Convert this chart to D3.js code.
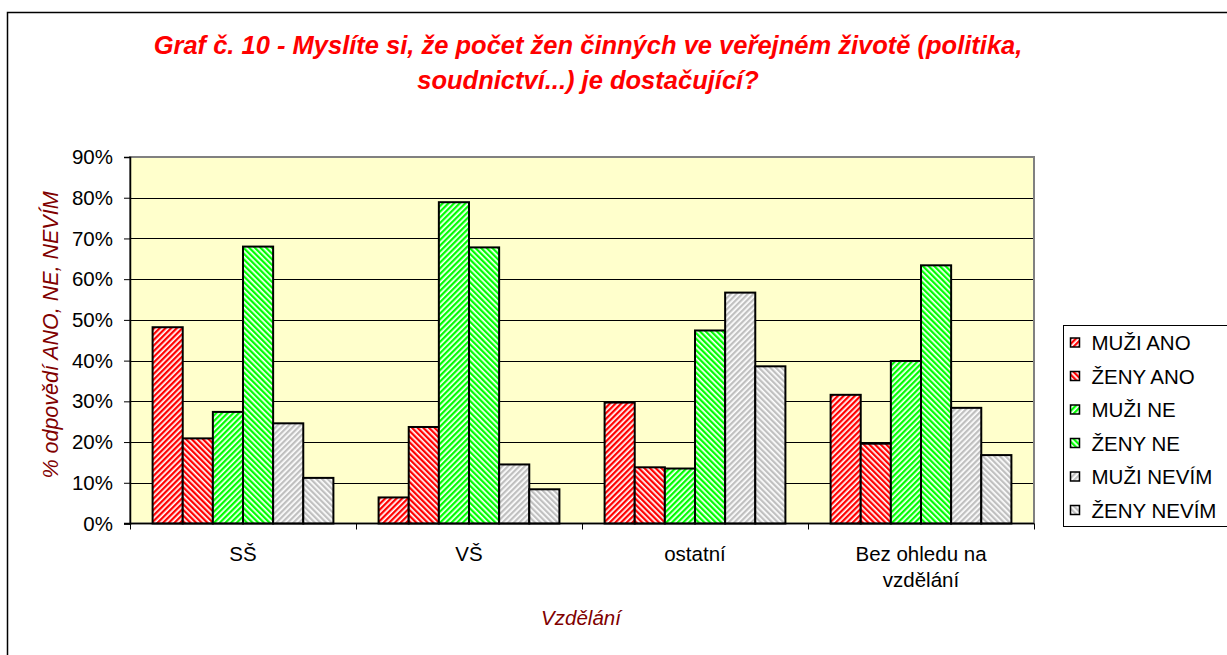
<!DOCTYPE html>
<html>
<head>
<meta charset="utf-8">
<script src="https://cdn.jsdelivr.net/npm/d3@7"></script>
<style>
  html, body { margin: 0; padding: 0; background: #fff; }
  svg { display: block; font-family: Arial, "Liberation Sans", sans-serif; }
</style>
</head>
<body>
<div id="chart"></div>
<script>
const categories = [["SŠ"], ["VŠ"], ["ostatní"], ["Bez ohledu na", "vzdělání"]];
const series = ["MUŽI ANO", "ŽENY ANO", "MUŽI NE", "ŽENY NE", "MUŽI NEVÍM", "ŽENY NEVÍM"];
const seriesColors = ["#ff0000", "#ff0000", "#00ff00", "#00ff00", "#c0c0c0", "#c0c0c0"];
const seriesSlant = [45, -45, 45, -45, 45, -45];

const muziAno   = [0.482, 0.064, 0.297, 0.316];
const zenyAno   = [0.209, 0.237, 0.138, 0.196];
const muziNe    = [0.274, 0.789, 0.135, 0.399];
const zenyNe    = [0.680, 0.678, 0.474, 0.634];
const muziNevim = [0.246, 0.145, 0.567, 0.284];
const zenyNevim = [0.112, 0.084, 0.386, 0.168];
const values = [muziAno, zenyAno, muziNe, zenyNe, muziNevim, zenyNevim];

const yTicks = [0, 0.1, 0.2, 0.3, 0.4, 0.5, 0.6, 0.7, 0.8, 0.9];

const W = 1227, H = 655;
const plot = { left: 130, right: 1034, top: 157, bottom: 523.5 };
const FS = 20.5;

const svg = d3.select("#chart").append("svg")
  .attr("width", W).attr("height", H);

// hatch patterns
const defs = svg.append("defs");
series.forEach((s, i) => {
  const p = defs.append("pattern")
    .attr("id", "hatch" + i)
    .attr("patternUnits", "userSpaceOnUse")
    .attr("width", 4).attr("height", 4)
    .attr("patternTransform", `rotate(${seriesSlant[i]})`);
  p.append("rect").attr("width", 4).attr("height", 4).attr("fill", "#fff");
  p.append("rect").attr("width", 2.3).attr("height", 4).attr("fill", seriesColors[i]);
});

// outer border
svg.append("rect")
  .attr("x", 7.5).attr("y", 12.5)
  .attr("width", W + 20).attr("height", H + 20)
  .attr("fill", "none").attr("stroke", "#000").attr("stroke-width", 1.5);

// title
const title = svg.append("text")
  .attr("text-anchor", "middle")
  .attr("fill", "#ff0000")
  .attr("font-size", 25.5).attr("font-weight", "bold").attr("font-style", "italic");
title.append("tspan").attr("x", 588).attr("y", 54)
  .text("Graf č. 10 - Myslíte si, že počet žen činných ve veřejném životě (politika,");
title.append("tspan").attr("x", 588).attr("y", 89)
  .text("soudnictví...) je dostačující?");

const x0 = d3.scaleBand()
  .domain(d3.range(categories.length))
  .range([plot.left, plot.right])
  .padding(0);

const x1 = d3.scaleBand()
  .domain(d3.range(series.length))
  .range([0, x0.bandwidth()])
  .paddingInner(0).paddingOuter(0.75);

const y = d3.scaleLinear().domain([0, 0.9]).range([plot.bottom, plot.top]);

// plot background
svg.append("rect")
  .attr("x", plot.left).attr("y", plot.top)
  .attr("width", plot.right - plot.left).attr("height", plot.bottom - plot.top)
  .attr("fill", "#ffffcc");

// gridlines
svg.append("g")
  .selectAll("line")
  .data(yTicks.slice(1))
  .join("line")
  .attr("x1", plot.left).attr("x2", plot.right)
  .attr("y1", d => Math.round(y(d)) + 0.5).attr("y2", d => Math.round(y(d)) + 0.5)
  .attr("stroke", "#000").attr("stroke-width", 1);

// plot border (gray)
svg.append("rect")
  .attr("x", plot.left).attr("y", plot.top)
  .attr("width", plot.right - plot.left).attr("height", plot.bottom - plot.top)
  .attr("fill", "none").attr("stroke", "#808080").attr("stroke-width", 2);

// bars
const groups = svg.append("g")
  .selectAll("g")
  .data(categories.map((c, ci) => ci))
  .join("g")
  .attr("transform", ci => `translate(${x0(ci)},0)`);

groups.selectAll("rect")
  .data(ci => series.map((s, si) => ({ si, v: values[si][ci] })))
  .join("rect")
  .attr("x", d => x1(d.si))
  .attr("width", x1.bandwidth())
  .attr("y", d => y(d.v))
  .attr("height", d => plot.bottom - y(d.v))
  .attr("fill", d => `url(#hatch${d.si})`)
  .attr("stroke", "#000").attr("stroke-width", 2);

// y axis
const yAxis = svg.append("g")
  .attr("transform", `translate(${plot.left},0)`)
  .call(d3.axisLeft(y).tickValues(yTicks).tickSize(6).tickPadding(11)
    .tickFormat(d => Math.round(d * 100) + "%"));
yAxis.select(".domain").attr("stroke", "#000").attr("stroke-width", 1.5);
yAxis.selectAll(".tick line").attr("stroke", "#000");
yAxis.selectAll(".tick text").attr("font-size", FS).attr("fill", "#000")
  .attr("font-family", "Arial, 'Liberation Sans', sans-serif");

// x axis
const xAxis = svg.append("g")
  .attr("transform", `translate(0,${plot.bottom})`);
xAxis.append("line")
  .attr("x1", plot.left - 6).attr("x2", plot.right)
  .attr("stroke", "#000").attr("stroke-width", 1.5);
xAxis.selectAll(".xtick")
  .data(d3.range(categories.length + 1))
  .join("line")
  .attr("class", "xtick")
  .attr("x1", i => Math.round(plot.left + i * x0.step()) + 0.5)
  .attr("x2", i => Math.round(plot.left + i * x0.step()) + 0.5)
  .attr("y1", 0).attr("y2", 6)
  .attr("stroke", "#000");
const labels = xAxis.selectAll(".xlabel")
  .data(categories)
  .join("text")
  .attr("class", "xlabel")
  .attr("text-anchor", "middle")
  .attr("font-size", FS)
  .attr("fill", "#000");
labels.each(function(lines, ci) {
  const t = d3.select(this);
  lines.forEach((ln, li) => {
    t.append("tspan")
      .attr("x", x0(ci) + x0.bandwidth() / 2)
      .attr("y", 37 + li * 26)
      .text(ln);
  });
});

// axis titles
svg.append("text")
  .attr("transform", `translate(58,335) rotate(-90)`)
  .attr("text-anchor", "middle")
  .attr("fill", "#800000").attr("font-size", 21.5).attr("font-style", "italic")
  .text("% odpovědí ANO, NE, NEVÍM");

svg.append("text")
  .attr("x", 581).attr("y", 625)
  .attr("text-anchor", "middle")
  .attr("fill", "#800000").attr("font-size", FS).attr("font-style", "italic")
  .text("Vzdělání");

// legend
const legend = svg.append("g").attr("transform", "translate(1063.5,325.5)");
legend.append("rect")
  .attr("width", 165).attr("height", 201)
  .attr("fill", "#fff").attr("stroke", "#000").attr("stroke-width", 1);
const items = legend.selectAll(".item")
  .data(series)
  .join("g")
  .attr("class", "item")
  .attr("transform", (d, i) => `translate(7,${17 + i * 33.5})`);
items.append("rect")
  .attr("x", 0).attr("y", -4.5)
  .attr("width", 9).attr("height", 9)
  .attr("fill", (d, i) => `url(#hatch${i})`)
  .attr("stroke", "#000").attr("stroke-width", 1.5);
items.append("text")
  .attr("x", 21).attr("y", 7.5)
  .attr("font-size", FS).attr("fill", "#000")
  .text(d => d);
</script>
</body>
</html>
